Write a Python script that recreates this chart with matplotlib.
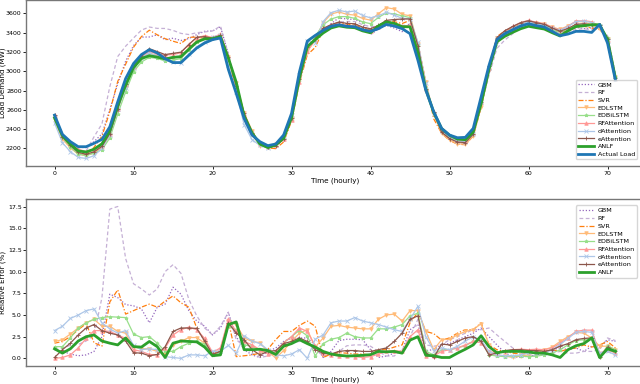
import matplotlib
matplotlib.use("Agg")
import matplotlib.pyplot as plt
import numpy as np

hours = list(range(72))

actual = [2545,2345,2270,2217,2217,2252,2293,2424,2683,2924,3080,3173,3224,3190,3131,3090,3090,3166,3241,3293,
          3328,3345,3020,2770,2510,2338,2269,2228,2245,2338,2562,2993,3313,3372,3424,3466,3483,3466,3462,3431,
          3414,3442,3486,3469,3442,3390,3114,2803,2580,2407,2338,2310,2314,2407,2734,3062,3328,3390,3431,3469,
          3493,3473,3459,3414,3369,3386,3414,3414,3403,3486,3293,2907]

pred_gbm = [2520,2326,2259,2210,2208,2270,2350,2603,2871,3105,3266,3354,3356,3378,3327,3343,3319,3340,3380,3415,
            3418,3462,3180,2839,2535,2347,2267,2210,2218,2292,2502,2923,3235,3320,3421,3494,3554,3542,3538,3505,
            3380,3439,3477,3448,3411,3502,3235,2828,2554,2368,2298,2260,2256,2337,2638,2985,3276,3412,3438,3472,
            3502,3487,3481,3448,3409,3420,3455,3441,3451,3444,3364,2964]
pred_rf = [2520,2317,2236,2182,2173,2320,2454,2841,3153,3260,3345,3427,3459,3445,3444,3424,3393,3381,3400,3408,
           3418,3469,3180,2830,2545,2352,2267,2222,2232,2305,2516,2935,3253,3338,3434,3476,3511,3516,3516,3484,
           3462,3470,3495,3478,3476,3475,3254,2846,2544,2370,2288,2252,2247,2328,2644,2955,3238,3324,3390,3448,
           3507,3482,3473,3434,3396,3406,3434,3441,3430,3451,3370,2967]
pred_svr = [2500,2299,2213,2144,2128,2211,2325,2582,2895,3073,3249,3360,3426,3378,3338,3312,3288,3353,3354,3357,
            3343,3378,3150,2776,2502,2329,2255,2205,2197,2266,2483,2879,3171,3247,3427,3483,3506,3487,3479,3448,
            3428,3476,3521,3514,3495,3529,3279,2890,2506,2356,2283,2243,2238,2328,2622,3015,3361,3417,3452,3486,
            3514,3496,3487,3448,3396,3422,3455,3467,3447,3432,3357,2942]
pred_edlstm = [2495,2295,2206,2139,2126,2151,2208,2334,2600,2839,3038,3138,3189,3164,3117,3138,3150,3242,3319,3351,
               3343,3368,3150,2878,2569,2384,2228,2210,2244,2317,2512,2906,3204,3328,3504,3594,3615,3591,3583,3548,
               3530,3597,3660,3646,3590,3576,3285,2890,2554,2355,2287,2248,2242,2328,2625,3015,3341,3399,3434,3478,
               3507,3501,3494,3458,3435,3471,3516,3513,3483,3437,3339,2936]
pred_edbilstm = [2511,2313,2217,2139,2126,2151,2185,2308,2556,2787,2994,3097,3143,3134,3106,3115,3132,3221,3304,3347,
                 3341,3365,3132,2861,2549,2371,2246,2210,2232,2296,2498,2896,3227,3363,3482,3542,3567,3567,3549,3512,
                 3494,3559,3605,3594,3576,3556,3276,2825,2570,2383,2315,2282,2280,2360,2678,3050,3337,3397,3440,3478,
                 3500,3482,3473,3434,3403,3438,3484,3487,3483,3483,3341,2936]
pred_rfatt = [2545,2343,2261,2190,2166,2180,2220,2349,2611,2857,3049,3148,3209,3177,3169,3173,3192,3280,3348,3369,
              3351,3385,3156,2856,2559,2374,2246,2217,2230,2296,2498,2888,3210,3325,3445,3480,3492,3475,3469,3434,
              3421,3459,3514,3500,3470,3475,3217,2811,2573,2388,2315,2282,2278,2360,2685,3038,3348,3417,3465,3505,
              3528,3509,3494,3455,3428,3466,3520,3525,3514,3465,3326,2924]
pred_datt = [2464,2258,2166,2106,2095,2124,2199,2342,2605,2830,3034,3141,3189,3158,3125,3093,3090,3179,3254,3303,
             3355,3372,3065,2787,2445,2291,2230,2206,2236,2331,2549,2963,3313,3298,3516,3608,3633,3615,3625,3579,
             3554,3576,3611,3583,3549,3543,3301,2873,2557,2378,2315,2278,2268,2347,2677,3038,3341,3400,3441,3483,
             3514,3494,3480,3448,3423,3464,3516,3520,3505,3465,3319,2919]
pred_eatt = [2542,2322,2230,2157,2139,2164,2220,2354,2611,2866,3060,3154,3234,3204,3173,3186,3198,3277,3353,3359,
             3343,3372,3144,2850,2564,2361,2260,2210,2225,2298,2512,2923,3248,3338,3445,3483,3511,3497,3493,3458,
             3441,3476,3528,3537,3542,3543,3267,2820,2577,2367,2302,2265,2260,2347,2681,3050,3348,3421,3465,3504,
             3524,3504,3487,3448,3416,3444,3487,3493,3483,3483,3336,2930]
pred_anlf = [2517,2331,2245,2173,2162,2191,2247,2382,2641,2855,3038,3132,3161,3147,3128,3144,3152,3228,3303,3336,
             3338,3358,3138,2886,2535,2361,2245,2208,2235,2305,2518,2929,3257,3328,3397,3449,3471,3457,3452,3419,
             3399,3470,3512,3497,3463,3461,3192,2813,2572,2405,2336,2296,2290,2370,2663,3021,3306,3363,3404,3441,
             3467,3452,3438,3400,3366,3420,3464,3472,3483,3483,3329,2930]

err_gbm = [1.0,0.8,0.5,0.3,0.4,0.8,2.5,7.4,7.0,6.2,6.05,5.7,4.1,5.9,6.25,8.2,7.4,5.5,4.3,3.7,
           2.7,3.5,5.3,2.5,1.0,0.4,0.1,0.8,1.2,1.95,2.35,2.35,2.35,1.55,0.1,0.8,2.05,2.2,2.2,2.15,
           1.0,0.1,0.27,0.6,0.9,3.3,3.9,0.9,1.0,1.6,1.7,2.15,2.5,2.9,3.5,2.5,1.55,0.65,0.2,0.1,
           0.27,0.4,0.65,1.0,1.2,1.0,1.2,0.8,1.4,1.2,2.15,1.95]
err_rf = [1.0,1.2,1.5,1.6,2.0,2.7,7.0,17.2,17.5,11.5,8.6,8.0,7.3,8.0,10.0,10.8,9.8,6.8,4.9,3.5,
          2.7,3.7,5.3,2.15,1.4,0.6,0.1,0.27,0.6,1.4,1.8,1.95,1.8,1.0,0.3,0.3,0.8,1.45,1.55,1.55,
          1.4,0.8,0.27,0.27,1.0,2.5,4.5,1.55,1.4,1.55,2.15,2.5,2.9,3.3,3.3,3.5,2.7,1.95,1.2,0.6,
          0.4,0.27,0.4,0.6,0.8,0.6,0.6,0.8,0.8,1.0,2.35,2.05]
err_svr = [1.75,1.95,2.5,3.3,4.0,1.8,1.4,6.5,7.9,5.1,5.5,5.9,6.25,5.9,6.6,7.2,6.4,5.9,3.5,1.95,
           0.45,1.0,4.3,0.2,0.3,0.4,0.6,1.05,2.15,3.1,3.1,3.8,4.3,3.7,0.1,0.5,0.65,0.6,0.5,0.5,
           0.4,1.0,1.0,1.3,1.55,4.1,5.3,3.1,2.85,2.1,2.35,2.9,3.3,3.3,4.1,1.55,1.0,0.8,0.6,0.5,
           0.6,0.65,0.8,1.0,0.8,1.05,1.2,1.55,1.3,1.55,1.95,1.2]
err_edlstm = [1.95,2.15,2.8,3.5,4.1,4.5,3.7,3.7,3.1,2.9,1.35,1.1,1.1,0.8,0.45,1.55,1.95,2.4,2.4,1.75,
              0.45,0.7,4.3,3.9,2.35,1.95,1.8,0.8,0.05,0.9,1.95,2.9,3.3,1.3,2.35,3.7,3.8,3.6,3.5,3.4,
              3.4,4.5,5.0,5.1,4.3,5.5,5.5,3.1,1.0,2.15,2.2,2.7,3.1,3.3,4.0,1.55,0.4,0.27,0.1,0.27,
              0.4,0.8,1.0,1.3,1.95,2.5,3.0,2.9,2.35,1.4,1.4,1.0]
err_edbilstm = [1.35,1.35,2.35,3.5,4.1,4.5,4.7,4.8,4.75,4.7,2.8,2.4,2.5,1.75,0.8,0.8,1.35,1.75,1.95,1.65,
                0.4,0.6,3.7,3.3,1.55,1.4,1.0,0.8,0.6,1.8,2.5,3.25,2.6,0.27,1.7,2.2,2.4,2.9,2.5,2.35,
                2.35,3.4,3.4,3.6,3.9,4.9,5.2,0.8,0.4,1.0,1.0,1.2,1.45,1.95,2.05,0.4,0.27,0.2,0.27,0.27,
                0.2,0.27,0.4,0.6,1.0,1.55,2.05,2.15,2.35,0.1,1.45,1.0]
err_rfatt = [0.0,0.1,0.4,1.2,2.3,3.2,3.2,3.1,2.7,2.3,1.0,0.8,0.45,0.4,1.2,2.7,3.3,3.6,3.3,2.3,
             0.7,1.2,4.5,3.1,1.95,1.55,1.0,0.5,0.65,1.8,2.5,3.5,3.1,1.4,0.6,0.4,0.27,0.27,0.2,0.1,
             0.2,0.5,0.8,0.9,0.8,2.5,3.3,0.27,0.27,0.8,1.0,1.2,1.55,1.95,1.8,0.8,0.6,0.8,1.0,1.05,
             1.0,1.05,1.0,1.2,1.75,2.35,3.1,3.25,3.25,0.6,1.0,0.6]
err_datt = [3.2,3.7,4.6,5.0,5.5,5.7,4.1,3.4,2.9,3.2,1.5,1.0,1.1,1.0,0.2,0.1,0.0,0.4,0.4,0.3,
            0.8,0.8,1.5,0.6,2.6,2.0,1.7,1.0,0.4,0.3,0.5,1.0,0.0,2.2,2.7,4.1,4.3,4.3,4.7,4.3,
            4.1,3.9,3.6,3.3,3.1,4.5,6.0,2.5,0.9,1.2,1.0,1.4,2.0,2.5,2.1,0.8,0.4,0.3,0.3,0.4,
            0.6,0.6,0.6,1.0,1.6,2.3,3.0,3.1,3.0,0.6,0.8,0.4]
err_eatt = [0.1,1.0,1.75,2.7,3.5,3.9,3.2,2.9,2.7,2.0,0.65,0.6,0.3,0.45,1.35,3.1,3.5,3.5,3.45,2.0,
            0.45,0.8,4.1,2.9,2.15,1.0,0.4,0.8,0.9,1.7,1.95,2.35,1.95,1.0,0.6,0.5,0.8,0.9,0.9,0.8,
            0.8,1.0,1.2,1.95,2.9,4.5,4.9,0.6,0.1,1.65,1.55,1.95,2.35,2.5,1.95,0.4,0.6,0.9,1.0,1.0,
            0.9,0.9,0.8,1.0,1.4,1.7,2.15,2.3,2.35,0.1,1.3,0.8]
err_anlf = [1.1,0.6,1.1,2.0,2.5,2.7,2.0,1.75,1.55,2.35,1.35,1.3,1.95,1.35,0.1,1.75,2.0,1.95,1.9,1.3,
            0.3,0.4,3.9,4.2,1.0,1.0,1.05,0.9,0.45,1.4,1.7,2.15,1.7,1.3,0.8,0.5,0.35,0.27,0.3,0.35,
            0.43,0.8,0.75,0.8,0.6,2.1,2.5,0.35,0.3,0.1,0.1,0.6,1.05,1.55,2.6,1.35,0.65,0.8,0.8,0.8,
            0.75,0.6,0.6,0.4,0.1,1.0,1.45,1.7,2.35,0.1,1.1,0.8]

names = ["GBM", "RF", "SVR", "EDLSTM", "EDBiLSTM", "RFAttention", "dAttention", "eAttention", "ANLF"]
preds = [pred_gbm, pred_rf, pred_svr, pred_edlstm, pred_edbilstm, pred_rfatt, pred_datt, pred_eatt, pred_anlf]
errs = [err_gbm, err_rf, err_svr, err_edlstm, err_edbilstm, err_rfatt, err_datt, err_eatt, err_anlf]

styles = [
    dict(color="#9467bd", ls=(0, (1, 1.5)), lw=0.9, marker=None),
    dict(color="#c5b0d5", ls=(0, (3, 2)), lw=0.9, marker=None),
    dict(color="#ff7f0e", ls=(0, (4, 1.5, 1, 1.5)), lw=0.9, marker=None),
    dict(color="#ffbb78", ls="-", lw=0.9, marker="v", ms=2.5),
    dict(color="#98df8a", ls="-", lw=0.9, marker="*", ms=2.5),
    dict(color="#ff9896", ls="-", lw=0.9, marker="^", ms=2.5),
    dict(color="#aec7e8", ls="-", lw=0.9, marker="x", ms=2.5),
    dict(color="#8c564b", ls="-", lw=0.9, marker="+", ms=3),
    dict(color="#2ca02c", ls="-", lw=2.0, marker=None),
]

plt.rcParams['font.family'] = ['DejaVu Sans']
fig = plt.figure(figsize=(6.4, 3.84), dpi=100)
ax1 = fig.add_axes([0.0414, 0.5677, 0.964, 0.432])
ax2 = fig.add_axes([0.0414, 0.047, 0.964, 0.435])

def draw(ax, series, extra=None):
    for name, y, st in zip(names, series, styles):
        kw = dict(color=st["color"], linestyle=st["ls"], linewidth=st["lw"], label=name)
        if st["marker"]:
            kw.update(marker=st["marker"], markersize=st["ms"], markeredgewidth=0.6)
        ax.plot(hours, y, **kw)
    if extra is not None:
        ax.plot(hours, extra, color="#1f77b4", linewidth=2.0, label="Actual Load")

draw(ax1, preds, actual)
draw(ax2, errs)

ax1.set_ylabel("Load Demand (MW)", fontsize=5.1)
ax2.set_ylabel("Relative Error (%)", fontsize=5.1)
ax1.yaxis.set_label_coords(-0.034, 0.5)
ax2.yaxis.set_label_coords(-0.034, 0.5)
for ax in (ax1, ax2):
    ax.set_xlabel("Time (hourly)", fontsize=5.2)
    ax.tick_params(labelsize=4.5, length=2, width=0.6, pad=1.5)
    ax.set_xticks([0, 10, 20, 30, 40, 50, 60, 70])
    for sp in ax.spines.values():
        sp.set_color("#777777")
        sp.set_linewidth(1.0)
ax1.xaxis.set_label_coords(0.5, -0.072)
ax2.xaxis.set_label_coords(0.5, -0.066)

ax1.set_yticks([2200, 2400, 2600, 2800, 3000, 3200, 3400, 3600])
ax2.set_yticks([0.0, 2.5, 5.0, 7.5, 10.0, 12.5, 15.0, 17.5])

leg1 = ax1.legend(loc="lower right", fontsize=4.6, handlelength=2.5, labelspacing=0.35,
                  borderpad=0.4, handletextpad=0.5, bbox_to_anchor=(0.9955, 0.02))
leg2 = ax2.legend(loc="upper right", fontsize=4.6, handlelength=2.5, labelspacing=0.35,
                  borderpad=0.4, handletextpad=0.5, bbox_to_anchor=(0.9955, 0.98))

fig.savefig("out.png", dpi=100)
